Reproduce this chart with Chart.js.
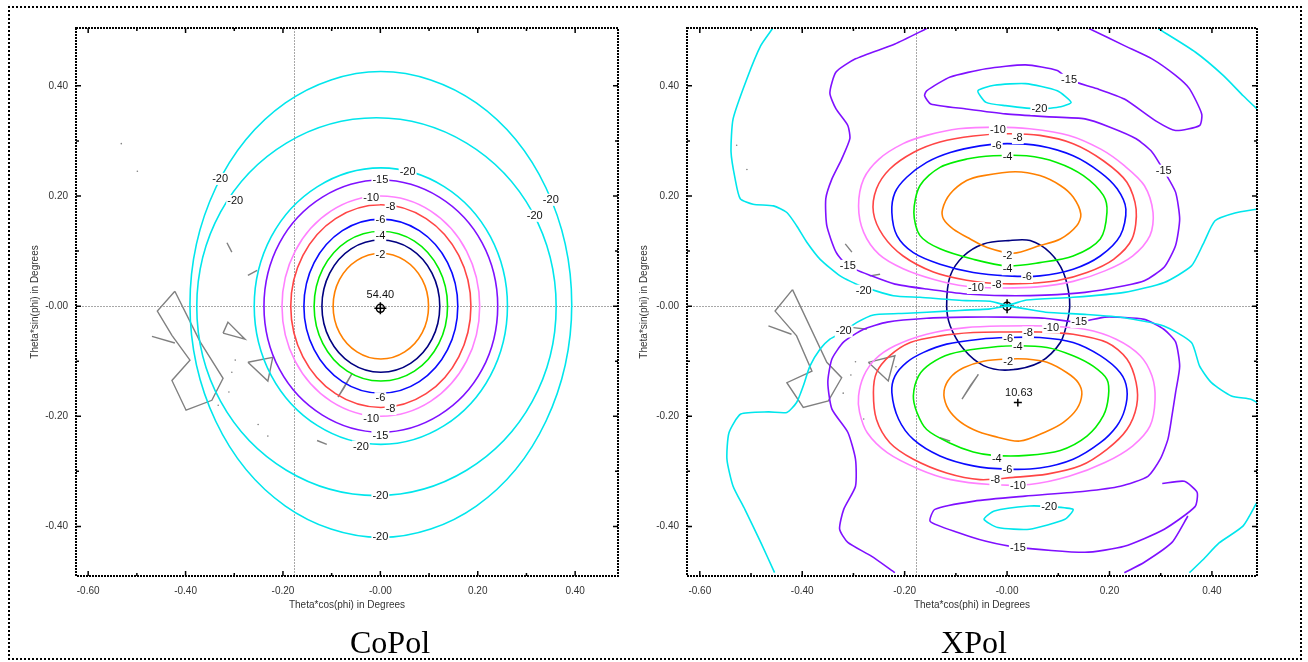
<!DOCTYPE html>
<html lang="en">
<head>
<meta charset="UTF-8">
<title>CoPol / XPol contour plots</title>
<script src="https://cdn.jsdelivr.net/npm/chart.js"></script>
<style>
    body {
        margin: 0;
        width: 1308px;
        height: 662px;
        position: relative;
        overflow: hidden;
        background: #fff;
        font-family: "Liberation Sans", Arial, sans-serif;
    }
    .frame {
        position: absolute;
        left: 8px; top: 6px;
        width: 1290px; height: 650px;
        border: 2px dotted #000;
    }
    canvas { position: absolute; top: 0; display: block; }
    .caption {
        position: absolute;
        top: 626px;
        font-family: "Liberation Serif", "Times New Roman", serif;
        font-size: 32px;
        line-height: 32px;
        transform: translateX(-50%);
        color: #000;
    }
</style>
</head>
<body>
<div class="frame"></div>
<canvas id="copol" width="640" height="662" style="left:0"></canvas>
<canvas id="xpol" width="676" height="662" style="left:632px"></canvas>
<div class="caption" style="left:390px">CoPol</div>
<div class="caption" style="left:974px">XPol</div>

<script>
// axis setup
const xMin = -0.625, xMax = 0.488, yMin = -0.49, yMax = 0.505;
const xTickValues = [-0.6, -0.4, -0.2, 0, 0.2, 0.4];
const xTickLabels = ['-0.60', '-0.40', '-0.20', '-0.00', '0.20', '0.40'];
const yTickValues = [-0.4, -0.2, 0, 0.2, 0.4];
const yTickLabels = ['-0.40', '-0.20', '-0.00', '0.20', '0.40'];
const xMinorTicks = [-0.6, -0.5, -0.4, -0.3, -0.2, -0.1, 0, 0.1, 0.2, 0.3, 0.4];
const yMinorTicks = [-0.4, -0.3, -0.2, -0.1, 0, 0.1, 0.2, 0.3, 0.4];
const crossX = -0.177, crossY = 0;

// ---- CoPol contours (dB levels) ----
const coOuter20 = [[0.393,0.003],[0.340,0.215],[0.197,0.369],[0.001,0.426],[-0.195,0.369],[-0.338,0.215],[-0.391,0.003],[-0.338,-0.209],[-0.195,-0.363],[0.001,-0.420],[0.197,-0.363],[0.340,-0.209],[0.393,0.003]];
const coMid20 = [[0.361,-0.001],[0.312,0.171],[0.177,0.296],[-0.008,0.342],[-0.193,0.296],[-0.328,0.171],[-0.377,-0.001],[-0.328,-0.173],[-0.193,-0.298],[-0.008,-0.344],[0.177,-0.298],[0.312,-0.173],[0.361,-0.001]];
const coInner20 = [[0.261,0],[0.226,0.126],[0.131,0.217],[0.001,0.251],[-0.129,0.217],[-0.224,0.126],[-0.259,0],[-0.224,-0.126],[-0.129,-0.217],[0.001,-0.251],[0.131,-0.217],[0.226,-0.126],[0.261,0]];
const co15 = [[0.241,0],[0.209,0.115],[0.121,0.198],[0.001,0.229],[-0.119,0.198],[-0.207,0.115],[-0.239,0],[-0.207,-0.115],[-0.119,-0.198],[0.001,-0.229],[0.121,-0.198],[0.209,-0.115],[0.241,0]];
const co10 = [[0.204,0],[0.177,0.100],[0.103,0.173],[0.001,0.200],[-0.101,0.173],[-0.175,0.100],[-0.202,0],[-0.175,-0.100],[-0.101,-0.173],[0.001,-0.200],[0.103,-0.173],[0.177,-0.100],[0.204,0]];
const co8 = [[0.186,0],[0.161,0.092],[0.094,0.159],[0.001,0.184],[-0.092,0.159],[-0.159,0.092],[-0.184,0],[-0.159,-0.092],[-0.092,-0.159],[0.001,-0.184],[0.094,-0.159],[0.161,-0.092],[0.186,0]];
const co6 = [[0.159,0],[0.138,0.079],[0.080,0.137],[0.001,0.158],[-0.078,0.137],[-0.136,0.079],[-0.157,0],[-0.136,-0.079],[-0.078,-0.137],[0.001,-0.158],[0.080,-0.137],[0.138,-0.079],[0.159,0]];
const co4 = [[0.138,0],[0.120,0.068],[0.070,0.118],[0.001,0.136],[-0.068,0.118],[-0.118,0.068],[-0.136,0],[-0.118,-0.068],[-0.068,-0.118],[0.001,-0.136],[0.070,-0.118],[0.120,-0.068],[0.138,0]];
const co3 = [[0.122,0],[0.106,0.060],[0.062,0.104],[0.001,0.120],[-0.060,0.104],[-0.104,0.060],[-0.120,0],[-0.104,-0.060],[-0.060,-0.104],[0.001,-0.120],[0.062,-0.104],[0.106,-0.060],[0.122,0]];
const co2 = [[0.099,0],[0.086,0.048],[0.050,0.083],[0.001,0.096],[-0.048,0.083],[-0.084,0.048],[-0.097,0],[-0.084,-0.048],[-0.048,-0.083],[0.001,-0.096],[0.050,-0.083],[0.086,-0.048],[0.099,0]];
const coGray = [
    [[-0.422,0.027],[-0.458,-0.009],[-0.428,-0.053],[-0.391,-0.098],[-0.428,-0.135],[-0.399,-0.189],[-0.346,-0.171],[-0.323,-0.131],[-0.370,-0.065],[-0.422,0.027]],
    [[-0.469,-0.055],[-0.422,-0.067]],
    [[-0.323,-0.049],[-0.313,-0.029],[-0.278,-0.060],[-0.323,-0.049]],
    [[-0.272,-0.102],[-0.221,-0.093],[-0.231,-0.136],[-0.272,-0.102]],
    [[-0.087,-0.165],[-0.058,-0.122],[-0.075,-0.149],[-0.087,-0.165]],
    [[-0.130,-0.244],[-0.110,-0.251]],
    [[-0.315,0.115],[-0.305,0.098]],
    [[-0.272,0.056],[-0.253,0.065]]
];
const coGrayDots = [[-0.532,0.295],[-0.499,0.245],[-0.298,-0.098],[-0.305,-0.120],[-0.311,-0.156],[-0.333,-0.180],[-0.251,-0.215],[-0.231,-0.236]];
const coPeak = [[0, -0.004]];
const coLabels = [
    [0.056,0.244,'-20'],[0,0.229,'-15'],[-0.019,0.196,'-10'],[0.021,0.180,'-8'],[0,0.156,'-6'],[0,0.127,'-4'],[0,0.093,'-2'],
    [0,-0.167,'-6'],[0.021,-0.187,'-8'],[-0.019,-0.204,'-10'],[0,-0.236,'-15'],[-0.040,-0.255,'-20'],[0,-0.344,'-20'],[0,-0.420,'-20'],
    [-0.329,0.231,'-20'],[-0.298,0.191,'-20'],[0.350,0.193,'-20'],[0.317,0.164,'-20'],[0,0.020,'54.40']
];

// ---- XPol contours ----
const xpUp2 = [[-0.126,0.176],[-0.111,0.204],[-0.079,0.228],[-0.046,0.237],[0.016,0.244],[0.064,0.237],[0.104,0.219],[0.129,0.198],[0.144,0.167],[0.136,0.146],[0.104,0.122],[0.064,0.110],[0.012,0.096],[-0.040,0.107],[-0.072,0.122],[-0.105,0.140],[-0.124,0.158],[-0.126,0.176]];
const xpUp4 = [[-0.182,0.170],[-0.170,0.219],[-0.131,0.252],[-0.079,0.267],[-0.027,0.273],[0.038,0.273],[0.097,0.261],[0.149,0.237],[0.188,0.201],[0.195,0.170],[0.182,0.122],[0.129,0.091],[0.064,0.079],[0,0.073],[-0.066,0.085],[-0.131,0.104],[-0.170,0.128],[-0.182,0.170]];
const xpUp6 = [[-0.225,0.170],[-0.219,0.206],[-0.196,0.234],[-0.157,0.261],[-0.111,0.279],[-0.053,0.291],[0,0.295],[0.064,0.291],[0.129,0.273],[0.182,0.243],[0.215,0.213],[0.232,0.176],[0.221,0.128],[0.182,0.091],[0.129,0.067],[0.064,0.055],[0,0.055],[-0.066,0.061],[-0.131,0.076],[-0.183,0.097],[-0.215,0.128],[-0.225,0.170]];
const xpUp8 = [[-0.261,0.170],[-0.255,0.213],[-0.229,0.249],[-0.183,0.279],[-0.131,0.298],[-0.066,0.309],[0,0.313],[0.064,0.310],[0.129,0.295],[0.188,0.264],[0.234,0.225],[0.252,0.176],[0.244,0.122],[0.208,0.085],[0.156,0.061],[0.097,0.046],[0.038,0.041],[-0.020,0.041],[-0.079,0.047],[-0.144,0.062],[-0.203,0.091],[-0.242,0.128],[-0.261,0.170]];
const xpUp10 = [[-0.290,0.182],[-0.280,0.231],[-0.250,0.267],[-0.203,0.295],[-0.157,0.310],[-0.095,0.322],[-0.018,0.325],[0.044,0.322],[0.121,0.310],[0.183,0.285],[0.229,0.255],[0.268,0.219],[0.285,0.170],[0.279,0.128],[0.245,0.091],[0.191,0.064],[0.129,0.045],[0.059,0.035],[-0.018,0.033],[-0.080,0.036],[-0.141,0.048],[-0.203,0.068],[-0.250,0.094],[-0.280,0.134],[-0.290,0.182]];
const xpLo2 = [[-0.123,-0.154],[-0.111,-0.130],[-0.085,-0.112],[-0.046,-0.100],[0,-0.096],[0.038,-0.096],[0.078,-0.102],[0.117,-0.121],[0.139,-0.139],[0.146,-0.160],[0.136,-0.187],[0.110,-0.211],[0.078,-0.227],[0.025,-0.245],[-0.027,-0.236],[-0.066,-0.224],[-0.098,-0.205],[-0.118,-0.181],[-0.123,-0.154]];
const xpLo4 = [[-0.183,-0.163],[-0.173,-0.127],[-0.150,-0.105],[-0.111,-0.087],[-0.053,-0.077],[0.012,-0.072],[0.078,-0.075],[0.129,-0.090],[0.168,-0.109],[0.195,-0.133],[0.198,-0.163],[0.188,-0.199],[0.156,-0.236],[0.104,-0.262],[0.038,-0.271],[-0.027,-0.271],[-0.066,-0.265],[-0.111,-0.249],[-0.157,-0.224],[-0.176,-0.193],[-0.183,-0.163]];
const xpLo6 = [[-0.225,-0.157],[-0.219,-0.127],[-0.196,-0.102],[-0.163,-0.084],[-0.118,-0.069],[-0.053,-0.060],[0,-0.057],[0.064,-0.057],[0.129,-0.066],[0.182,-0.090],[0.221,-0.121],[0.234,-0.151],[0.230,-0.187],[0.214,-0.218],[0.182,-0.248],[0.129,-0.278],[0.064,-0.294],[0,-0.296],[-0.066,-0.290],[-0.131,-0.272],[-0.183,-0.242],[-0.212,-0.205],[-0.225,-0.157]];
const xpLo8 = [[-0.261,-0.157],[-0.255,-0.121],[-0.229,-0.090],[-0.189,-0.066],[-0.131,-0.054],[-0.066,-0.048],[0,-0.047],[0.064,-0.047],[0.129,-0.051],[0.195,-0.066],[0.234,-0.096],[0.252,-0.139],[0.253,-0.181],[0.234,-0.224],[0.195,-0.260],[0.143,-0.290],[0.078,-0.305],[0.012,-0.311],[-0.053,-0.315],[-0.118,-0.303],[-0.183,-0.278],[-0.229,-0.248],[-0.255,-0.206],[-0.261,-0.157]];
const xpLo10 = [[-0.290,-0.163],[-0.280,-0.127],[-0.257,-0.096],[-0.219,-0.072],[-0.157,-0.051],[-0.080,-0.039],[-0.003,-0.036],[0.075,-0.036],[0.152,-0.042],[0.213,-0.060],[0.260,-0.090],[0.283,-0.127],[0.289,-0.169],[0.279,-0.218],[0.245,-0.254],[0.191,-0.284],[0.121,-0.309],[0.044,-0.324],[-0.033,-0.324],[-0.110,-0.315],[-0.172,-0.296],[-0.234,-0.266],[-0.273,-0.230],[-0.288,-0.193],[-0.290,-0.163]];
const xpNavy = [[-0.118,0.001],[-0.111,0.055],[-0.085,0.091],[-0.046,0.113],[0.003,0.119],[0.045,0.119],[0.084,0.097],[0.110,0.061],[0.122,0.013],[0.120,-0.018],[0.104,-0.066],[0.064,-0.102],[0.003,-0.116],[-0.046,-0.108],[-0.085,-0.078],[-0.111,-0.036],[-0.118,0.001]];
const xpPurpleUp = [[-0.157,0.504],[-0.219,0.476],[-0.296,0.449],[-0.334,0.425],[-0.346,0.387],[-0.334,0.358],[-0.311,0.328],[-0.307,0.304],[-0.323,0.267],[-0.342,0.231],[-0.354,0.195],[-0.352,0.146],[-0.334,0.098],[-0.311,0.073],[-0.265,0.055],[-0.219,0.040],[-0.157,0.031],[-0.080,0.022],[-0.003,0.019],[0.074,0.020],[0.152,0.025],[0.229,0.037],[0.268,0.046],[0.307,0.071],[0.329,0.110],[0.337,0.158],[0.329,0.207],[0.306,0.246],[0.283,0.280],[0.252,0.304],[0.201,0.325],[0.152,0.340],[0.074,0.344],[-0.003,0.349],[-0.080,0.358],[-0.149,0.367],[-0.161,0.382],[-0.157,0.391],[-0.111,0.416],[-0.041,0.431],[0.036,0.438],[0.098,0.428],[0.121,0.411],[0.175,0.395],[0.229,0.376],[0.291,0.336],[0.329,0.319],[0.376,0.328],[0.380,0.349],[0.356,0.395],[0.329,0.419],[0.283,0.449],[0.229,0.473],[0.160,0.504]];
const xpPurpleLo = [[-0.219,-0.484],[-0.265,-0.454],[-0.311,-0.429],[-0.327,-0.405],[-0.319,-0.369],[-0.296,-0.327],[-0.296,-0.278],[-0.311,-0.229],[-0.342,-0.187],[-0.350,-0.138],[-0.342,-0.096],[-0.319,-0.065],[-0.280,-0.042],[-0.234,-0.029],[-0.157,-0.022],[-0.080,-0.020],[-0.002,-0.020],[0.074,-0.022],[0.141,-0.029],[0.191,-0.020],[0.268,-0.024],[0.306,-0.042],[0.329,-0.065],[0.337,-0.109],[0.329,-0.157],[0.322,-0.199],[0.314,-0.242],[0.299,-0.278],[0.275,-0.309],[0.221,-0.327],[0.152,-0.336],[0.035,-0.345],[-0.064,-0.354],[-0.141,-0.369],[-0.150,-0.391],[-0.096,-0.411],[-0.041,-0.427],[0.021,-0.438],[0.152,-0.447],[0.229,-0.436],[0.307,-0.405],[0.367,-0.364],[0.371,-0.338],[0.346,-0.318],[0.303,-0.322]];
const xpPurpleLoRight = [[0.229,-0.484],[0.268,-0.465],[0.322,-0.429],[0.353,-0.381]];
const xpCyanUpLeft = [[-0.458,0.504],[-0.481,0.473],[-0.508,0.413],[-0.535,0.340],[-0.539,0.280],[-0.531,0.231],[-0.521,0.195],[-0.496,0.185],[-0.456,0.182],[-0.430,0.170],[-0.411,0.146],[-0.391,0.116],[-0.365,0.085],[-0.326,0.055],[-0.287,0.037],[-0.222,0.019],[-0.170,0.016],[-0.080,0.010],[-0.033,0.009],[0,0.002],[0.038,0.011],[0.129,0.016],[0.229,0.025],[0.307,0.043],[0.360,0.073],[0.383,0.113],[0.406,0.155],[0.445,0.169],[0.488,0.176]];
const xpCyanUpRight = [[0.295,0.504],[0.368,0.461],[0.422,0.419],[0.461,0.382],[0.488,0.358]];
const xpCyanUpIsland = [[-0.057,0.391],[-0.025,0.401],[0.036,0.404],[0.098,0.391],[0.125,0.370],[0.105,0.362],[0.063,0.358],[-0.003,0.364],[-0.041,0.370],[-0.057,0.391]];
const xpCyanLoLeft = [[-0.454,-0.484],[-0.481,-0.429],[-0.512,-0.369],[-0.535,-0.327],[-0.547,-0.278],[-0.543,-0.230],[-0.520,-0.196],[-0.466,-0.192],[-0.430,-0.193],[-0.411,-0.175],[-0.398,-0.145],[-0.385,-0.109],[-0.365,-0.078],[-0.346,-0.060],[-0.320,-0.047],[-0.294,-0.030],[-0.261,-0.016],[-0.195,-0.013],[-0.118,-0.009],[-0.033,-0.005],[0,0],[0.075,-0.011],[0.152,-0.015],[0.229,-0.021],[0.306,-0.036],[0.360,-0.066],[0.376,-0.109],[0.399,-0.139],[0.438,-0.163],[0.476,-0.169],[0.488,-0.175]];
const xpCyanLoRight = [[0.488,-0.356],[0.461,-0.399],[0.414,-0.430],[0.383,-0.460],[0.356,-0.484]];
const xpCyanLoIsland = [[-0.045,-0.387],[-0.025,-0.372],[0.044,-0.363],[0.082,-0.364],[0.129,-0.369],[0.113,-0.387],[0.044,-0.405],[-0.018,-0.402],[-0.045,-0.387]];
const xpGray = [
    [[-0.419,0.030],[-0.453,-0.009],[-0.411,-0.054],[-0.381,-0.118],[-0.430,-0.139],[-0.398,-0.184],[-0.349,-0.172],[-0.323,-0.130],[-0.352,-0.102],[-0.419,0.030]],
    [[-0.466,-0.036],[-0.421,-0.051]],
    [[-0.271,-0.102],[-0.219,-0.090],[-0.232,-0.136],[-0.271,-0.102]],
    [[-0.300,-0.039],[-0.274,-0.042]],
    [[-0.316,0.113],[-0.303,0.098]],
    [[-0.268,0.055],[-0.248,0.058]],
    [[-0.088,-0.169],[-0.056,-0.124],[-0.072,-0.145],[-0.088,-0.169]],
    [[-0.131,-0.239],[-0.111,-0.245]]
];
const xpGrayDots = [[-0.528,0.292],[-0.508,0.248],[-0.296,-0.101],[-0.305,-0.125],[-0.320,-0.158],[-0.280,-0.205],[-0.217,-0.110]];
const xpCenter = [[0, 0]];
const xpPeak = [[0.021, -0.175]];
const xpLabels = [
    [-0.018,0.320,'-10'],[0.021,0.305,'-8'],[-0.020,0.290,'-6'],[0.001,0.270,'-4'],[0.001,0.091,'-2'],[0.001,0.067,'-4'],[0.039,0.053,'-6'],
    [-0.020,0.039,'-8'],[-0.061,0.033,'-10'],[-0.311,0.073,'-15'],[-0.280,0.028,'-20'],[0.306,0.246,'-15'],[0.121,0.411,'-15'],[0.063,0.358,'-20'],
    [-0.319,-0.046,'-20'],[0.141,-0.029,'-15'],[0.086,-0.039,'-10'],[0.041,-0.048,'-8'],[0.002,-0.060,'-6'],[0.021,-0.075,'-4'],[0.002,-0.102,'-2'],
    [-0.020,-0.278,'-4'],[0.001,-0.298,'-6'],[-0.023,-0.316,'-8'],[0.021,-0.327,'-10'],[0.082,-0.364,'-20'],[0.021,-0.439,'-15'],[0.023,-0.157,'10.63']
];

const C = { cyan:'#00e6ec', purple:'#7f10ff', pink:'#ff80ff', red:'#ff4545', blue:'#0a0aff', green:'#00ee00', navy:'#000080', orange:'#ff8000', gray:'#808080' };
const tickFont = { family: '"Liberation Sans", Arial, sans-serif', size: 10 };
const clear = 'rgba(0,0,0,0)';

// closed contours get one extra point on each side (hidden) so the curve has no seam
function line(pts, color, tension) {
    const n = pts.length;
    const closed = pts[0][0] === pts[n - 1][0] && pts[0][1] === pts[n - 1][1];
    const src = closed ? [pts[n - 2], ...pts, pts[1]] : pts;
    const m = src.length;
    const ds = {
        data: src.map(p => ({ x: p[0], y: p[1] })),
        showLine: true, borderColor: color, borderWidth: 1.6,
        pointRadius: 0, tension: tension === undefined ? 0.3 : tension, fill: false
    };
    if (closed) {
        ds.segment = { borderColor: c => (c.p0DataIndex === 0 || c.p0DataIndex === m - 2) ? clear : color };
    }
    return ds;
}
function grayLines(list) {
    return list.map(p => ({
        data: p.map(q => ({ x: q[0], y: q[1] })), showLine: true, borderColor: C.gray,
        borderWidth: 1.4, pointRadius: 0, tension: 0, fill: false
    }));
}
function dots(pts) {
    return { data: pts.map(p => ({ x: p[0], y: p[1] })), pointRadius: 0.8, pointBackgroundColor: C.gray, pointBorderWidth: 0, showLine: false };
}
function marker(pts, style, r) {
    return { data: pts.map(p => ({ x: p[0], y: p[1] })), pointStyle: style, pointRadius: r, borderColor: '#000', backgroundColor: clear, borderWidth: 1.5, showLine: false };
}

// crosshair, dotted frame and inward ticks
const framePlugin = {
    id: 'frame',
    beforeDatasetsDraw(chart) {
        const { ctx, chartArea: a, scales: { x, y } } = chart;
        ctx.save();
        ctx.strokeStyle = '#a8a8a8'; ctx.lineWidth = 1; ctx.setLineDash([2, 1]);
        const px = Math.round(x.getPixelForValue(crossX)) + 0.5, py = Math.round(y.getPixelForValue(crossY)) + 0.5;
        ctx.beginPath(); ctx.moveTo(px, a.top); ctx.lineTo(px, a.bottom); ctx.moveTo(a.left, py); ctx.lineTo(a.right, py); ctx.stroke();
        ctx.restore();
    },
    afterDraw(chart) {
        const { ctx, chartArea: a, scales: { x, y } } = chart;
        ctx.save();
        ctx.strokeStyle = '#000'; ctx.lineWidth = 2; ctx.setLineDash([2, 1]);
        ctx.strokeRect(a.left, a.top, a.right - a.left, a.bottom - a.top);
        ctx.setLineDash([]); ctx.lineWidth = 1.5;
        ctx.beginPath();
        xMinorTicks.forEach(v => {
            const px = x.getPixelForValue(v), len = xTickValues.includes(v) ? 5 : 3;
            ctx.moveTo(px, a.top); ctx.lineTo(px, a.top + len);
            ctx.moveTo(px, a.bottom); ctx.lineTo(px, a.bottom - len);
        });
        yMinorTicks.forEach(v => {
            const py = y.getPixelForValue(v), len = yTickValues.includes(v) ? 5 : 3;
            ctx.moveTo(a.left, py); ctx.lineTo(a.left + len, py);
            ctx.moveTo(a.right, py); ctx.lineTo(a.right - len, py);
        });
        ctx.stroke();
        ctx.restore();
    }
};

const labelPlugin = {
    id: 'contourLabels',
    afterDatasetsDraw(chart, args, opts) {
        const { ctx, scales: { x, y } } = chart;
        ctx.save();
        ctx.font = '11px "Liberation Sans", Arial, sans-serif';
        ctx.textAlign = 'center'; ctx.textBaseline = 'middle';
        (opts.items || []).forEach(([vx, vy, t]) => {
            const px = x.getPixelForValue(vx), py = y.getPixelForValue(vy);
            const w = ctx.measureText(t).width;
            ctx.fillStyle = '#fff';
            ctx.fillRect(px - w / 2 - 1, py - 6, w + 2, 12);
            ctx.fillStyle = '#111';
            ctx.fillText(t, px, py);
        });
        ctx.restore();
    }
};

function panelOptions(padding, yWidth, labels) {
    return {
        responsive: false,
        animation: false,
        layout: { padding: padding },
        plugins: { legend: { display: false }, tooltip: { enabled: false }, contourLabels: { items: labels } },
        scales: {
            x: {
                type: 'linear', min: xMin, max: xMax,
                afterBuildTicks: s => { s.ticks = xTickValues.map(v => ({ value: v })); },
                afterFit: s => { s.height = 39; },
                grid: { display: false, drawTicks: false },
                border: { display: false },
                ticks: { callback: (v, i) => xTickLabels[i], font: tickFont, color: '#333', padding: 9, maxRotation: 0, autoSkip: false },
                title: { display: true, text: 'Theta*cos(phi) in Degrees', font: tickFont, color: '#333', padding: { top: 2, bottom: 4 } }
            },
            y: {
                type: 'linear', min: yMin, max: yMax,
                afterBuildTicks: s => { s.ticks = yTickValues.map(v => ({ value: v })); },
                afterFit: s => { s.width = yWidth; },
                grid: { display: false, drawTicks: false },
                border: { display: false },
                ticks: { callback: (v, i) => yTickLabels[i], font: tickFont, color: '#333', padding: 8, autoSkip: false },
                title: { display: true, text: 'Theta*sin(phi) in Degrees', font: tickFont, color: '#333', padding: { top: 4, bottom: 4 } }
            }
        }
    };
}

const coDatasets = [
    line(coOuter20, C.cyan, 0.35), line(coMid20, C.cyan, 0.35), line(coInner20, C.cyan, 0.35),
    line(co15, C.purple, 0.35), line(co10, C.pink, 0.35), line(co8, C.red, 0.35), line(co6, C.blue, 0.35),
    line(co4, C.green, 0.35), line(co3, C.navy, 0.35), line(co2, C.orange, 0.35),
    ...grayLines(coGray), dots(coGrayDots),
    marker(coPeak, 'circle', 4), marker(coPeak, 'cross', 6)
];

new Chart(document.getElementById('copol'), {
    type: 'scatter',
    data: { datasets: coDatasets },
    options: panelOptions({ left: 25, right: 22, top: 28, bottom: 47 }, 51, coLabels),
    plugins: [framePlugin, labelPlugin]
});

const xpDatasets = [
    line(xpCyanUpLeft, C.cyan, 0.2), line(xpCyanUpRight, C.cyan, 0.2), line(xpCyanUpIsland, C.cyan, 0.2),
    line(xpCyanLoLeft, C.cyan, 0.2), line(xpCyanLoRight, C.cyan, 0.2), line(xpCyanLoIsland, C.cyan, 0.2),
    line(xpPurpleUp, C.purple, 0.2), line(xpPurpleLo, C.purple, 0.2), line(xpPurpleLoRight, C.purple, 0.2),
    line(xpUp10, C.pink), line(xpUp8, C.red), line(xpUp6, C.blue), line(xpUp4, C.green), line(xpUp2, C.orange),
    line(xpLo10, C.pink), line(xpLo8, C.red), line(xpLo6, C.blue), line(xpLo4, C.green), line(xpLo2, C.orange),
    line(xpNavy, C.navy),
    ...grayLines(xpGray), dots(xpGrayDots),
    marker(xpCenter, 'circle', 4), marker(xpCenter, 'cross', 7), marker(xpPeak, 'cross', 4)
];

new Chart(document.getElementById('xpol'), {
    type: 'scatter',
    data: { datasets: xpDatasets },
    options: panelOptions({ left: 2, right: 51, top: 28, bottom: 47 }, 53, xpLabels),
    plugins: [framePlugin, labelPlugin]
});
</script>
</body>
</html>
